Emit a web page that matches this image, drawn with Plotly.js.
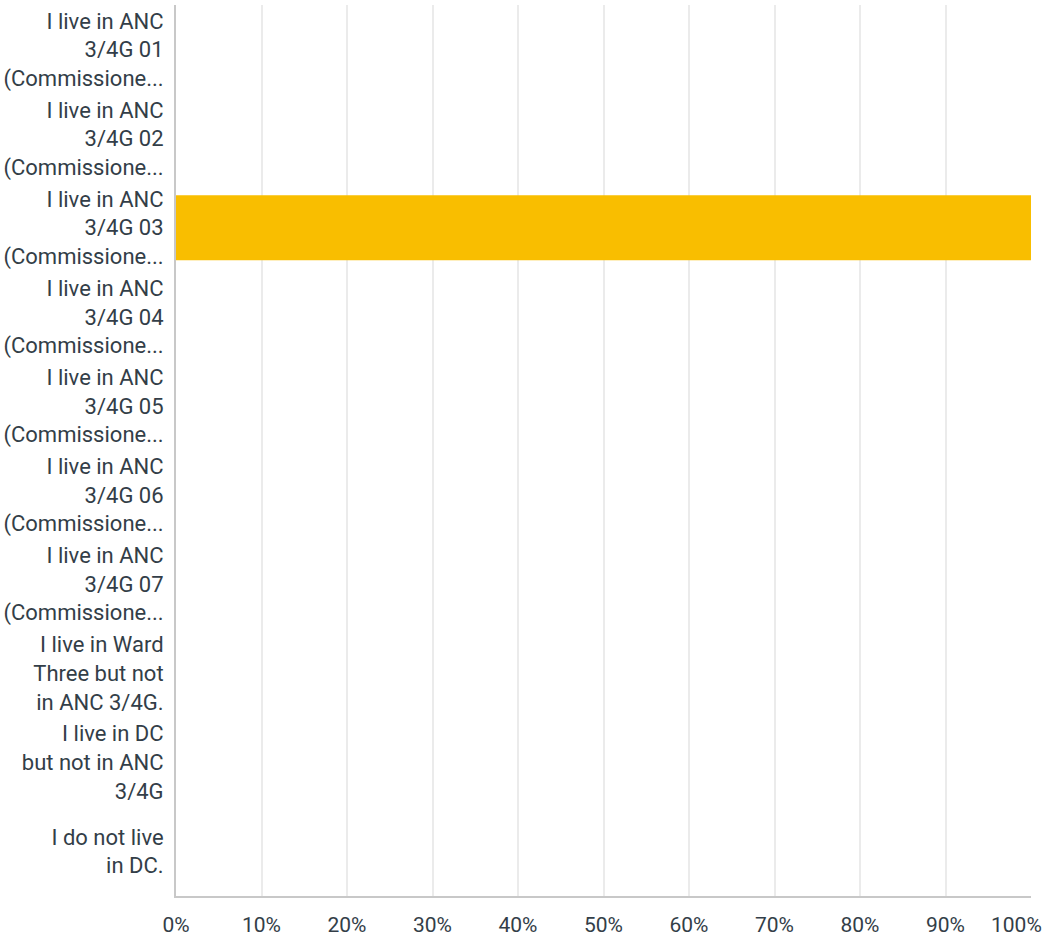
<!DOCTYPE html>
<html>
<head>
<meta charset="utf-8">
<script src="https://cdn.plot.ly/plotly-3.0.1.min.js"></script>
<style>html,body{margin:0;padding:0;background:#fff;}#chart{width:1048px;height:938px;}</style>
</head>
<body>
<div id="chart"></div>
<script>
const categories = [
  "I live in ANC<br>3/4G 01<br>(Commissione...",
  "I live in ANC<br>3/4G 02<br>(Commissione...",
  "I live in ANC<br>3/4G 03<br>(Commissione...",
  "I live in ANC<br>3/4G 04<br>(Commissione...",
  "I live in ANC<br>3/4G 05<br>(Commissione...",
  "I live in ANC<br>3/4G 06<br>(Commissione...",
  "I live in ANC<br>3/4G 07<br>(Commissione...",
  "I live in Ward<br>Three but not<br>in ANC 3/4G.",
  "I live in DC<br>but not in ANC<br>3/4G",
  "I do not live<br>in DC."
];
const values = [0, 0, 1, 0, 0, 0, 0, 0, 0, 0];
const xTickVals = [0, 0.1, 0.2, 0.3, 0.4, 0.5, 0.6, 0.7, 0.8, 0.9, 1];
const xTickLabels = ["0%", "10%", "20%", "30%", "40%", "50%", "60%", "70%", "80%", "90%", "100%"];

const lastIdx = xTickLabels.length - 1;
const tickFont = {family: 'Roboto, sans-serif', size: 21, color: '#333e48'};

const trace = {
  type: 'bar',
  orientation: 'h',
  y: categories,
  x: values,
  marker: {color: '#F9BE00'},
  hoverinfo: 'x+y'
};

const layout = {
  width: 1048,
  height: 938,
  margin: {l: 176, r: 17, t: 5, b: 42, pad: 0},
  paper_bgcolor: '#ffffff',
  plot_bgcolor: '#ffffff',
  font: {family: 'Roboto, sans-serif', size: 20, color: '#333e48'},
  bargap: 0.27,
  showlegend: false,
  xaxis: {
    range: [0, 1],
    tickvals: xTickVals,
    ticktext: xTickLabels.map((t, i) => i === lastIdx ? '' : t),
    showgrid: true,
    gridcolor: '#ebebeb',
    gridwidth: 2,
    zeroline: false,
    showline: true,
    linecolor: '#c8c8c8',
    linewidth: 2,
    ticks: '',
    ticklabelstandoff: 9,
    tickfont: tickFont,
    fixedrange: true
  },
  yaxis: {
    type: 'category',
    autorange: 'reversed',
    showgrid: false,
    zeroline: false,
    showline: true,
    linecolor: '#c8c8c8',
    linewidth: 2,
    ticks: '',
    ticklabelstandoff: 6,
    tickfont: {family: 'Roboto, sans-serif', size: 22, color: '#333e48'},
    fixedrange: true
  },
  annotations: [{
    x: xTickVals[lastIdx],
    xref: 'x',
    y: 0,
    yref: 'paper',
    yanchor: 'top',
    yshift: -15,
    xanchor: 'right',
    xshift: 13,
    text: xTickLabels[lastIdx],
    showarrow: false,
    font: tickFont
  }]
};

Plotly.newPlot('chart', [trace], layout, {displayModeBar: false, staticPlot: true});
</script>
</body>
</html>
